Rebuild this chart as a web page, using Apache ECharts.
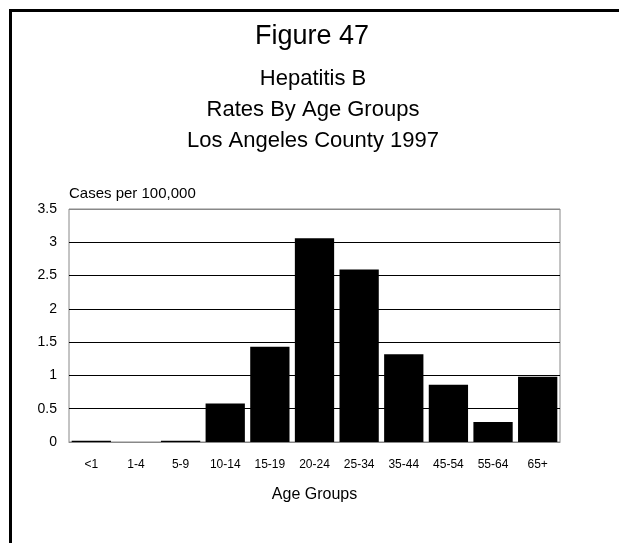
<!DOCTYPE html>
<html><head><meta charset="utf-8">
<script src="https://cdn.jsdelivr.net/npm/echarts@6/dist/echarts.min.js"></script>
<style>html,body{margin:0;padding:0;background:#fff}#c{width:619px;height:543px}</style>
</head><body><div id="c"></div>
<script>
const categories = ['<1','1-4','5-9','10-14','15-19','20-24','25-34','35-44','45-54','55-64','65+'];
const rates = [0.02, 0, 0.02, 0.58, 1.43, 3.06, 2.59, 1.32, 0.86, 0.30, 0.98];
const titleLines = ['Figure 47', 'Hepatitis B', 'Rates By Age Groups', 'Los Angeles County 1997'];
const yAxisName = 'Cases per 100,000';
const xAxisName = 'Age Groups';
const F = '"Liberation Sans", Arial, Helvetica, sans-serif';
const chart = echarts.init(document.getElementById('c'));
chart.setOption({
  animation: false,
  backgroundColor: '#fff',
  textStyle: { fontFamily: F },
  graphic: [
    { type: 'rect', shape: { x: 9, y: 9, width: 610, height: 3 }, style: { fill: '#000' } },
    { type: 'rect', shape: { x: 9, y: 9, width: 3, height: 534 }, style: { fill: '#000' } },
    { type: 'text', x: 312, y: 37, style: { text: titleLines[0], font: '27px ' + F, fill: '#000', textAlign: 'center', textVerticalAlign: 'middle' } },
    { type: 'text', x: 313, y: 79, style: { text: titleLines[1], font: '22px ' + F, fill: '#000', textAlign: 'center', textVerticalAlign: 'middle' } },
    { type: 'text', x: 313, y: 110, style: { text: titleLines[2], font: '22px ' + F, fill: '#000', textAlign: 'center', textVerticalAlign: 'middle' } },
    { type: 'text', x: 313, y: 141, style: { text: titleLines[3], font: '22px ' + F, fill: '#000', textAlign: 'center', textVerticalAlign: 'middle' } }
  ],
  grid: { left: 69, right: 59, top: 209, bottom: 101, show: true, borderColor: '#888', borderWidth: 1 },
  xAxis: {
    type: 'category', data: categories,
    name: xAxisName, nameLocation: 'middle', nameGap: 45,
    nameTextStyle: { fontSize: 16, color: '#000', fontFamily: F },
    axisLine: { lineStyle: { color: '#888' } },
    axisTick: { show: false },
    axisLabel: { fontSize: 12, color: '#000', margin: 17, interval: 0 }
  },
  yAxis: {
    type: 'value', min: 0, max: 3.5, interval: 0.5,
    name: yAxisName, nameLocation: 'end', nameGap: 8,
    nameTextStyle: { fontSize: 15, color: '#000', align: 'left' },
    axisLine: { show: false }, axisTick: { show: false },
    axisLabel: { fontSize: 14, color: '#000', margin: 12 },
    splitLine: { show: true, lineStyle: { color: ['#888','#000','#000','#000','#000','#000','#000','#888'], width: 1 } }
  },
  series: [{
    type: 'bar', data: rates, barCategoryGap: '12%',
    itemStyle: { color: '#000' }
  }]
});
</script></body></html>
